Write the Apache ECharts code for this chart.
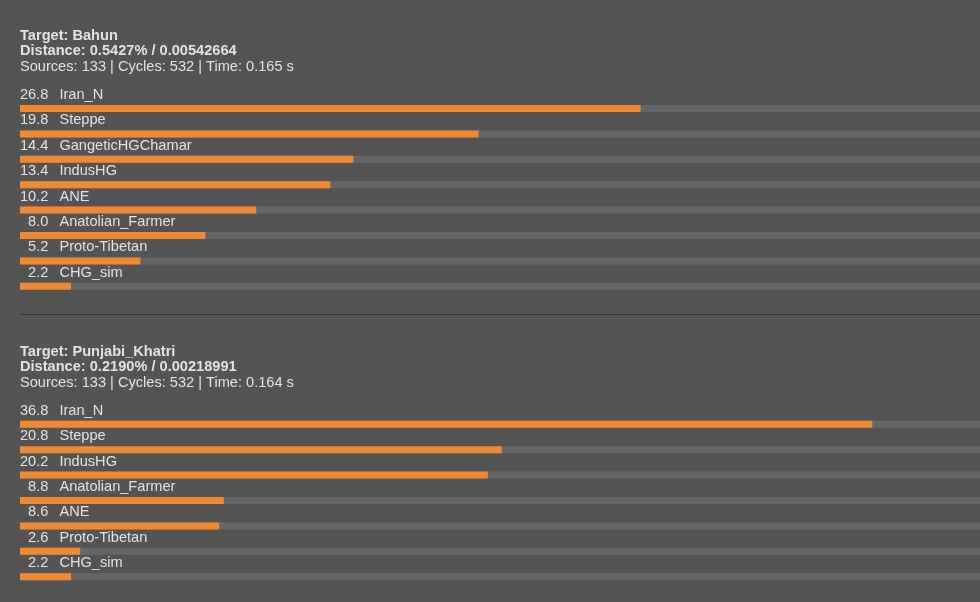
<!DOCTYPE html>
<html>
<head>
<meta charset="utf-8">
<script src="https://cdn.jsdelivr.net/npm/echarts@6/dist/echarts.min.js"></script>
<style>
html,body{margin:0;padding:0;background:#545454;}
#c{width:980px;height:602px;}
</style>
</head>
<body>
<div id="c"></div>
<script>
// ---- data ----
const headerA = ["Target: Bahun", "Distance: 0.5427% / 0.00542664", "Sources: 133 | Cycles: 532 | Time: 0.165 s"];
const namesA = ["Iran_N", "Steppe", "GangeticHGChamar", "IndusHG", "ANE", "Anatolian_Farmer", "Proto-Tibetan", "CHG_sim"];
const valuesA = [26.8, 19.8, 14.4, 13.4, 10.2, 8.0, 5.2, 2.2];

const headerB = ["Target: Punjabi_Khatri", "Distance: 0.2190% / 0.00218991", "Sources: 133 | Cycles: 532 | Time: 0.164 s"];
const namesB = ["Iran_N", "Steppe", "IndusHG", "Anatolian_Farmer", "ANE", "Proto-Tibetan", "CHG_sim"];
const valuesB = [36.8, 20.8, 20.2, 8.8, 8.6, 2.6, 2.2];

const FONT = '"Liberation Sans", Arial, Helvetica, sans-serif';
const FS = 14.6;
const TXT = '#e2e2e2';
const ORANGE = '#f08a32';
const TRACK = '#666666';
const XMAX = 41.45;
const ROW = 25.4;

const chart = echarts.init(document.getElementById('c'), null, {renderer: 'canvas'});

function header(lines, y0) {
  return lines.map((t, i) => ({
    type: 'text',
    left: 20,
    top: y0 + i * 15.7 - 8,
    style: {
      text: t,
      fill: TXT,
      font: (i < 2 ? 'bold ' : '') + FS + 'px ' + FONT
    }
  }));
}

function fmtVal(v) {
  const s = v.toFixed(1);
  return (v < 10 ? '\u2007' : '') + s;
}

function makeSeries(names, values, idx) {
  return {
    type: 'bar',
    xAxisIndex: idx,
    yAxisIndex: idx,
    data: values.map((v, i) => ({value: v, name: names[i]})),
    barWidth: 7,
    showBackground: true,
    backgroundStyle: {color: TRACK},
    itemStyle: {color: ORANGE},
    silent: true,
    label: {
      show: true,
      position: [0, -10],
      align: 'left',
      verticalAlign: 'middle',
      formatter: p => '{v|' + fmtVal(p.value) + '}{n|' + p.name + '}',
      rich: {
        v: {color: TXT, fontSize: FS, fontFamily: FONT},
        n: {padding: [0, 0, 0, 11], color: TXT, fontSize: FS, fontFamily: FONT}
      }
    }
  };
}

const gridA = {left: 20, right: 0, top: 108.5 - ROW / 2, height: ROW * namesA.length};
const gridB = {left: 20, right: 0, top: 424.3 - ROW / 2, height: ROW * namesB.length};

chart.setOption({
  backgroundColor: '#545454',
  animation: false,
  grid: [gridA, gridB],
  xAxis: [0, 1].map(i => ({
    type: 'value', gridIndex: i, min: 0, max: XMAX, show: false
  })),
  yAxis: [namesA, namesB].map((n, i) => ({
    type: 'category', gridIndex: i, data: n, inverse: true, show: false
  })),
  series: [makeSeries(namesA, valuesA, 0), makeSeries(namesB, valuesB, 1)],
  graphic: [
    ...header(headerA, 36),
    {
      type: 'line',
      shape: {x1: 20, y1: 314.5, x2: 980, y2: 314.5},
      style: {stroke: '#373737', lineWidth: 1}
    },
    ...header(headerB, 352)
  ]
});
</script>
</body>
</html>
